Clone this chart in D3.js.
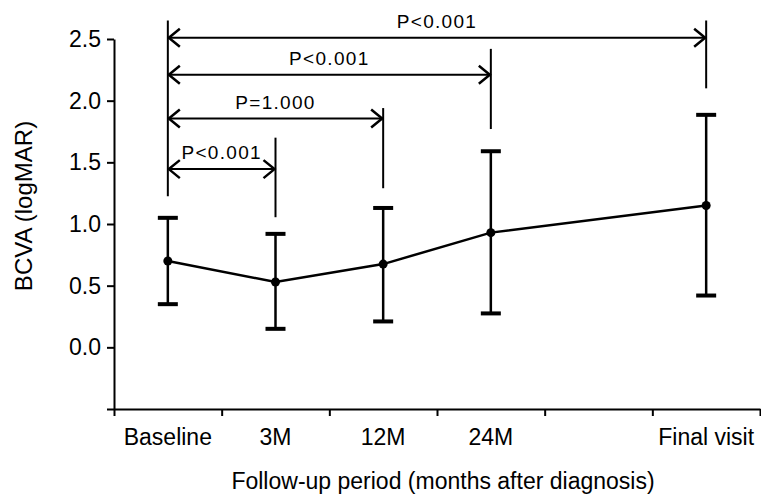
<!DOCTYPE html>
<html>
<head>
<meta charset="utf-8">
<script src="https://cdn.jsdelivr.net/npm/d3@7"></script>
<style>
  body { margin:0; background:#fff; }
  svg text { font-family:"Liberation Sans", Arial, sans-serif; fill:#000; }
</style>
</head>
<body>
<div class="chart"></div>
<script>
// visits along the x axis, one empty slot before the final visit
const visits = ["Baseline","3M","12M","24M","gap","Final visit"];
const pointVisits = ["Baseline","3M","12M","24M","Final visit"];
const meanValues = [0.70,0.53,0.675,0.93,1.15];
const upperValues = [1.05,0.92,1.13,1.59,1.885];
const lowerValues = [0.35,0.15,0.21,0.275,0.42];

const yTicks = [-0.5,0,0.5,1.0,1.5,2.0,2.5];

// comparison brackets, all from Baseline
const compareTo = ["3M","12M","24M","Final visit"];
const compareLabels = ["P<0.001","P=1.000","P<0.001","P<0.001"];
const arrowLevels = [1.445,1.855,2.21,2.51];
const endTop = [1.70,1.94,2.42,2.65];
const endBottom = [1.055,1.29,1.77,2.10];
const baseTop = 2.65, baseBottom = 1.225;

const width = 761, height = 500;
const margin = { top:39, left:114, right:1, bottom:91 };

const svg = d3.select(".chart").append("svg")
  .attr("width",width).attr("height",height);

const x = d3.scaleBand()
  .domain(visits)
  .range([margin.left,width - margin.right]);

const edges = d3.scaleLinear()
  .domain([0,visits.length])
  .range([margin.left,width - margin.right]);

const y = d3.scaleLinear()
  .domain([-0.5,2.5])
  .range([height - margin.bottom,margin.top]);

const cx = v => x(v) + x.bandwidth()/2;

// y axis
const yAxis = svg.append("g")
  .attr("transform",`translate(${margin.left},0)`)
  .call(d3.axisLeft(y).tickValues(yTicks)
    .tickFormat(d => d < 0 ? "" : d3.format(".1f")(d))
    .tickSize(7).tickSizeOuter(0).tickPadding(6));
yAxis.selectAll("text").style("font-size","23px");

// x axis: edge ticks, then labels at band centres
const xBase = height - margin.bottom;
svg.append("g")
  .attr("transform",`translate(0,${xBase})`)
  .call(d3.axisBottom(edges).tickValues(d3.range(0,visits.length + 1))
    .tickFormat("").tickSize(7).tickSizeOuter(0));

const xLabels = svg.append("g")
  .attr("transform",`translate(0,${xBase})`)
  .call(d3.axisBottom(x).tickSize(0).tickPadding(20)
    .tickFormat(d => d === "gap" ? "" : d));
xLabels.select(".domain").remove();
xLabels.selectAll("text").style("font-size","23px");

svg.selectAll(".domain, .tick line")
  .attr("stroke","#000").attr("stroke-width",2);

// axis titles
svg.append("text")
  .attr("x",443).attr("y",489)
  .attr("text-anchor","middle")
  .style("font-size","23px")
  .text("Follow-up period (months after diagnosis)");

svg.append("text")
  .attr("transform","translate(32,206) rotate(-90)")
  .attr("text-anchor","middle")
  .style("font-size","24px")
  .text("BCVA (logMAR)");

// error bars
const bars = svg.append("g");
pointVisits.forEach((v,i) => {
  bars.append("line")
    .attr("x1",cx(v)).attr("x2",cx(v))
    .attr("y1",y(upperValues[i])).attr("y2",y(lowerValues[i]))
    .attr("stroke","#000").attr("stroke-width",2.5);
  [upperValues[i],lowerValues[i]].forEach(e => {
    bars.append("line")
      .attr("x1",cx(v) - 10).attr("x2",cx(v) + 10)
      .attr("y1",y(e)).attr("y2",y(e))
      .attr("stroke","#000").attr("stroke-width",4);
  });
});

// mean line and dots
const line = d3.line()
  .x((d,i) => cx(pointVisits[i]))
  .y(d => y(d));

svg.append("path")
  .datum(meanValues)
  .attr("d",line)
  .attr("fill","none")
  .attr("stroke","#000")
  .attr("stroke-width",2.5);

svg.append("g").selectAll("circle")
  .data(meanValues)
  .enter()
  .append("circle")
  .attr("cx",(d,i) => cx(pointVisits[i]))
  .attr("cy",d => y(d))
  .attr("r",4.5)
  .attr("fill","#000");

// brackets
const br = svg.append("g")
  .attr("stroke","#000").attr("fill","none");

const x0 = cx("Baseline");
br.append("line")
  .attr("x1",x0).attr("x2",x0)
  .attr("y1",y(baseTop)).attr("y2",y(baseBottom))
  .attr("stroke-width",2);

compareTo.forEach((v,i) => {
  const x1 = cx(v);
  const ay = y(arrowLevels[i]);
  br.append("line")
    .attr("x1",x1).attr("x2",x1)
    .attr("y1",y(endTop[i])).attr("y2",y(endBottom[i]))
    .attr("stroke-width",2);
  br.append("line")
    .attr("x1",x0).attr("x2",x1)
    .attr("y1",ay).attr("y2",ay)
    .attr("stroke-width",2);
  br.append("path")
    .attr("d",`M${x0 + 12},${ay - 9}L${x0 + 1},${ay}L${x0 + 12},${ay + 9}`)
    .attr("stroke-width",2.5);
  br.append("path")
    .attr("d",`M${x1 - 12},${ay - 9}L${x1 - 1},${ay}L${x1 - 12},${ay + 9}`)
    .attr("stroke-width",2.5);
  svg.append("text")
    .attr("x",(x0 + x1)/2).attr("y",ay - 10)
    .attr("text-anchor","middle")
    .style("font-size","19px")
    .style("letter-spacing","1.3px")
    .text(compareLabels[i]);
});
</script>
</body>
</html>
